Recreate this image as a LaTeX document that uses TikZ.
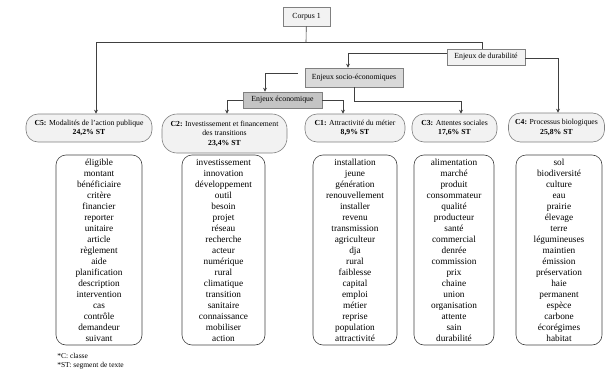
\documentclass[tikz,border=0pt]{standalone}
\usepackage{fontspec}
\setmainfont{Liberation Serif}
\usetikzlibrary{arrows.meta}

\definecolor{fondclair}{HTML}{F2F2F2}
\definecolor{fondmoyen}{HTML}{D9D9D9}
\definecolor{fondfonce}{HTML}{C4C4C4}
\definecolor{trait}{HTML}{404040}

\begin{document}
\begin{tikzpicture}[x=1pt, y=-1pt, line width=0.6pt,
    fleche/.style={draw=trait, -{Stealth[length=4pt, width=4pt]}},
    enjeu/.style={draw=gray, inner sep=0pt, font=\fontsize{7.8}{9}\selectfont},
    classe/.style={draw=gray, fill=fondclair, rounded corners=12pt, inner sep=0pt, align=center, font=\fontsize{7.7}{9.5}\selectfont},
    mots/.style={draw=trait, rounded corners=10pt, inner sep=0pt, minimum height=190pt, align=center, font=\fontsize{9.3}{11}\selectfont}]
    \useasboundingbox (0,0) rectangle (605,372);

    % niveaux du dendrogramme
    \node[enjeu, fill=fondclair, minimum width=47pt, minimum height=19pt] (corpus) at (306.5,16.5) {Corpus 1};
    \node[enjeu, fill=fondclair, minimum width=78pt, minimum height=16pt] (durab) at (486,57) {Enjeux de durabilité};
    \node[enjeu, fill=fondmoyen, minimum width=98pt, minimum height=19pt] (socio) at (354,77.5) {Enjeux socio-économiques};
    \node[enjeu, fill=fondfonce, minimum width=79pt, minimum height=16pt] (eco) at (282.5,100) {Enjeux économique};

    % classes
    \node[classe, minimum width=126pt, minimum height=28pt] (cfive) at (89,128) {\textbf{C5:} Modalités de l'action publique\\\textbf{24,2\% ST}};
    \node[classe, minimum width=125pt, minimum height=39pt, rounded corners=15pt] (ctwo) at (224.5,133.5) {\textbf{C2:} Investissement et financement\\des transitions\\\textbf{23,4\% ST}};
    \node[classe, minimum width=100pt, minimum height=28pt] (cone) at (355,128) {\textbf{C1:} Attractivité du métier\\\textbf{8,9\% ST}};
    \node[classe, minimum width=85pt, minimum height=28pt] (cthree) at (454.5,128) {\textbf{C3:} Attentes sociales\\\textbf{17,6\% ST}};
    \node[classe, minimum width=96pt, minimum height=29pt] (cfour) at (556.5,127.5) {\textbf{C4:} Processus biologiques\\\textbf{25,8\% ST}};

    % liaisons
    \coordinate (tronc) at (306,42);
    \draw[trait] (corpus) -- (tronc);
    \draw[fleche] (tronc) -| ([xshift=7]cfive.north);
    \draw[trait] (tronc) -| ([xshift=-4]durab.north);
    \draw[fleche] ([yshift=4]durab.west) -| ([xshift=-6]socio.north);
    \draw[fleche] ([yshift=-1]durab.east) -| ([xshift=1.5]cfour.north);
    \draw[fleche] ([xshift=-7, yshift=4.5]socio.west) -| ([xshift=-17.5]eco.north);
    \draw[fleche] (socio.south) -- ++(0,14) -| ([xshift=6.5]cthree.north);
    \draw[fleche] (eco.west) -| ([xshift=2.5]ctwo.north);
    \draw[fleche] (eco.east) -| ([xshift=-12]cone.north);

    % formes actives
    \node[mots, minimum width=86pt] (mfive) at (99,250) {éligible\\montant\\bénéficiaire\\critère\\financier\\reporter\\unitaire\\article\\règlement\\aide\\planification\\description\\intervention\\cas\\contrôle\\demandeur\\suivant};
    \node[mots, minimum width=83pt] (mtwo) at (223.5,250) {investissement\\innovation\\développement\\outil\\besoin\\projet\\réseau\\recherche\\acteur\\numérique\\rural\\climatique\\transition\\sanitaire\\connaissance\\mobiliser\\action};
    \node[mots, minimum width=84pt] (mone) at (355,250) {installation\\jeune\\génération\\renouvellement\\installer\\revenu\\transmission\\agriculteur\\dja\\rural\\faiblesse\\capital\\emploi\\métier\\reprise\\population\\attractivité};
    \node[mots, minimum width=80pt] (mthree) at (454,250) {alimentation\\marché\\produit\\consommateur\\qualité\\producteur\\santé\\commercial\\denrée\\commission\\prix\\chaine\\union\\organisation\\attente\\sain\\durabilité};
    \node[mots, minimum width=86pt] (mfour) at (559,250) {sol\\biodiversité\\culture\\eau\\prairie\\élevage\\terre\\légumineuses\\maintien\\émission\\préservation\\haie\\permanent\\espèce\\carbone\\écorégimes\\habitat};

    % legende
    \node[anchor=west, inner sep=0pt, font=\fontsize{7.5}{9}\selectfont] (legc) at (57,356) {*C: classe};
    \node[anchor=west, inner sep=0pt, font=\fontsize{7.5}{9}\selectfont] (legst) at (57,366) {*ST: segment de texte};
\end{tikzpicture}
\end{document}
